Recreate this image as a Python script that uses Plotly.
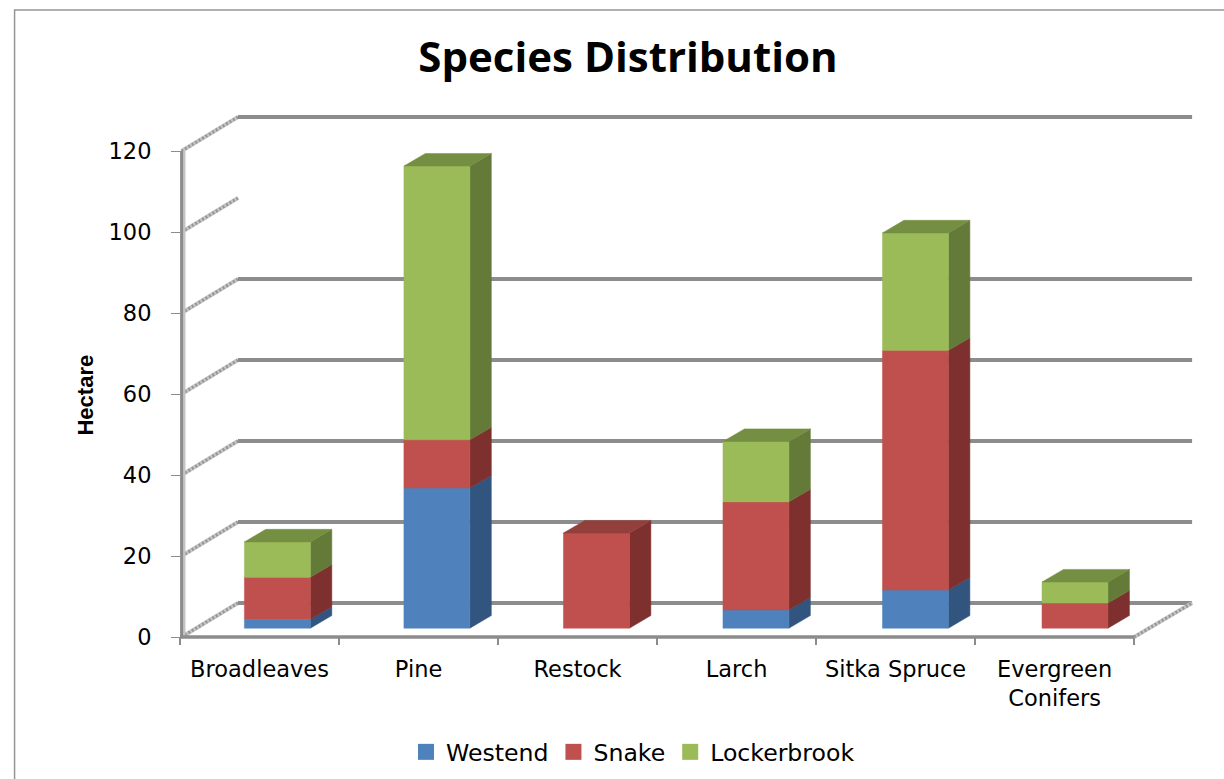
import plotly.graph_objects as go

categories = ["Broadleaves", "Pine", "Restock", "Larch", "Sitka Spruce", "Evergreen<br>Conifers"]
westend = [2.2, 34.6, 0, 4.5, 9.4, 0]
snake = [10.4, 11.9, 23.5, 26.7, 59.2, 6.2]
lockerbrook = [8.7, 67.6, 0, 14.9, 29.0, 5.2]
y_ticks = [0, 20, 40, 60, 80, 100, 120]
back_gridlines = [0, 20, 40, 60, 80, 120]

W, H = 1224, 779
L, R, T, B = 179.5, 1193.0, 115.0, 637.0
PAD = 10
PX_X = 159.1
PX_Y = 4.05
DX = 58 / PX_X
DY = 34 / PX_Y
FRONT, BACK = 0.26, 0.63
BAR_W = 66 / PX_X
BAR_START = 0.405
BAR_PITCH = 159.6 / PX_X

series = [
    ("Westend", westend, "#4F81BD", "#32557F", "#3F6796"),
    ("Snake", snake, "#C0504D", "#7D302E", "#93403D"),
    ("Lockerbrook", lockerbrook, "#9BBB59", "#647A38", "#758F42"),
]

GRID = "#8C8C8C"
WALL = "#C6C6C6"
WALL_DARK = "#969696"
fig = go.Figure()


def poly(xs, ys, color):
    fig.add_trace(go.Scatter(x=xs + xs[:1], y=ys + ys[:1], mode="lines", fill="toself",
                             fillcolor=color, line=dict(width=0.5, color=color),
                             hoverinfo="skip", showlegend=False))


def line(xs, ys, color, width, dash="solid"):
    fig.add_trace(go.Scatter(x=xs, y=ys, mode="lines", cliponaxis=False,
                             line=dict(color=color, width=width, dash=dash),
                             hoverinfo="skip", showlegend=False))


def wall(xs, ys):
    line(xs, ys, WALL, 4)
    line(xs, ys, WALL_DARK, 3, "2px,2px")


# walls
for v in y_ticks:
    wall([0.01, DX], [v, v + DY])
for v in back_gridlines:
    line([DX, 6 + DX], [v + DY, v + DY], GRID, 4)
wall([6, 6 + DX], [0, DY])

# bars
d = BACK - FRONT
base = FRONT * DY
for i in range(len(categories)):
    fx0 = i * BAR_PITCH + BAR_START
    fx1 = fx0 + BAR_W
    cum = 0
    top_color = None
    for name, vals, front, side, top in series:
        v = vals[i]
        if v <= 0:
            continue
        poly([fx1, fx1 + d * DX, fx1 + d * DX, fx1],
             [base + cum, base + cum + d * DY, base + cum + v + d * DY, base + cum + v], side)
        poly([fx0, fx1, fx1, fx0], [base + cum, base + cum, base + cum + v, base + cum + v], front)
        cum += v
        top_color = top
    poly([fx0, fx1, fx1 + d * DX, fx0 + d * DX],
         [base + cum, base + cum, base + cum + d * DY, base + cum + d * DY], top_color)

# front axes
line([0.025, 0.025], [0, 120], "#C4C4C4", 3)
line([0.01, 0.01], [0, 120], GRID, 3)
line([0, 6], [0, 0], GRID, 3.5)

# legend entries
for name, vals, front, side, top in series:
    fig.add_trace(go.Scatter(x=[None], y=[None], mode="markers", name=name,
                             marker=dict(symbol="square", size=16, color=front, line=dict(width=0))))

px_w = R - L + PAD
px_h = B - T + PAD
fx = lambda p: (p - (L - PAD)) / px_w
fy = lambda p: (B + PAD - p) / px_h

fig.update_layout(
    width=W, height=H, autosize=False,
    margin=dict(l=L - PAD, r=W - R, t=T, b=H - B - PAD, pad=0),
    paper_bgcolor="white", plot_bgcolor="white",
    font=dict(family="DejaVu Sans", size=22.5, color="#000000"),
    title=dict(text="<b>Species Distribution</b>", x=628 / W, xanchor="center",
               y=1 - 57 / H, yanchor="middle",
               font=dict(family="Open Sans", size=42, color="#000000")),
    showlegend=True,
    legend=dict(orientation="h", xref="container", yref="container", x=633 / W, xanchor="center",
                y=1 - 752 / H, yanchor="middle",
                font=dict(size=23.6), bgcolor="rgba(0,0,0,0)"),
    xaxis=dict(range=[-PAD / PX_X, (R - L) / PX_X], tickmode="array",
               anchor="free", position=PAD / px_h,
               tickvals=[i + 0.5 for i in range(6)], ticktext=categories,
               ticks="", ticklabelstandoff=16, showgrid=False, zeroline=False, showline=False,
               tickangle=0, automargin=False,
               minor=dict(tickmode="array", tickvals=list(range(7)), ticks="outside",
                          ticklen=7, tickwidth=1.5, tickcolor=GRID, showgrid=False)),
    yaxis=dict(range=[-PAD / PX_Y, (B - T) / PX_Y], tickmode="array", tickvals=y_ticks,
               anchor="free", position=PAD / px_w,
               ticks="outside", ticklen=9, tickwidth=1.2, tickcolor=GRID, ticklabelstandoff=15,
               showgrid=False, zeroline=False, showline=False, automargin=False),
    annotations=[dict(text="<b>Hectare</b>", xref="paper", yref="paper", x=fx(84), y=fy(395),
                      xanchor="center", yanchor="middle", textangle=-90, showarrow=False,
                      font=dict(family="Liberation Sans", size=22, color="#000000"))],
    shapes=[dict(type="path", xref="paper", yref="paper", layer="below",
                 path=f"M {fx(14)} {fy(779)} L {fx(14)} {fy(10)} L {fx(1224)} {fy(10)}",
                 line=dict(color="#969696", width=1.5))],
)

fig.write_html("out.html", post_script="document.body.style.margin='0';",
               config=dict(displayModeBar=False))
